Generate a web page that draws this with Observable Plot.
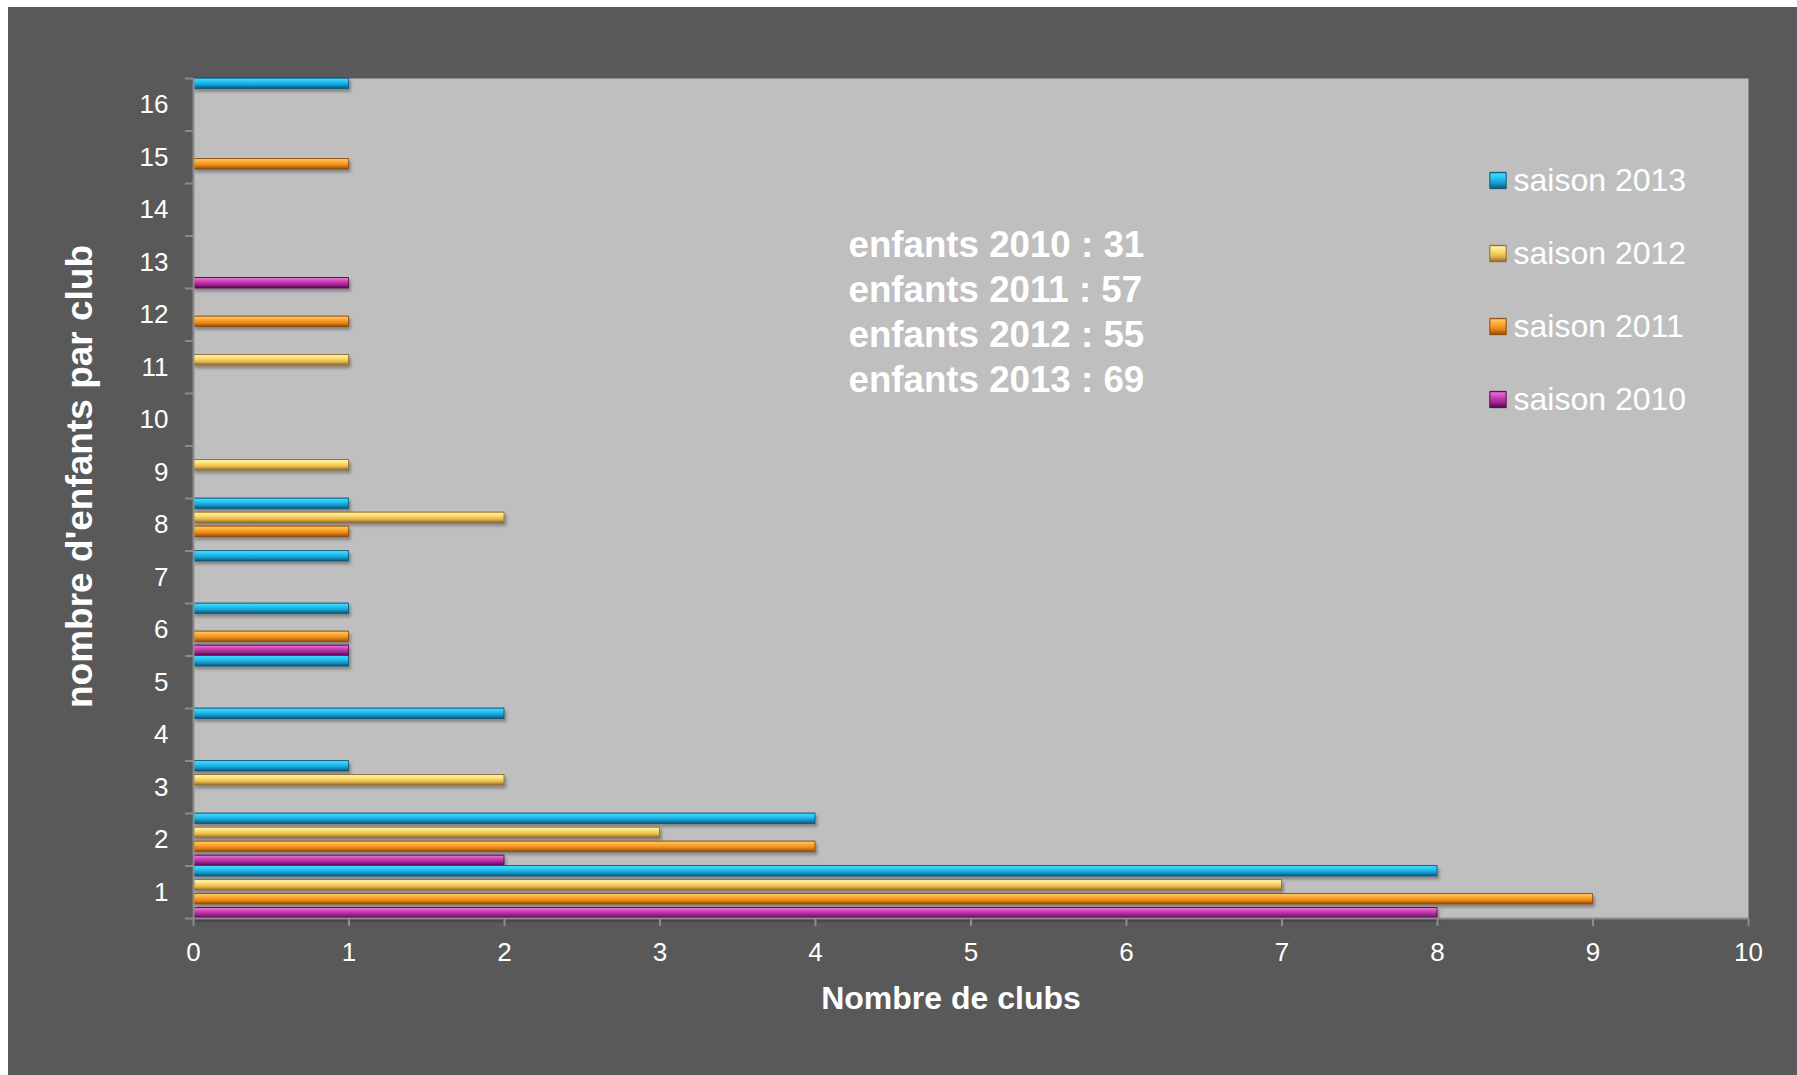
<!DOCTYPE html>
<html>
<head>
<meta charset="utf-8">
<script src="https://cdn.jsdelivr.net/npm/d3@7"></script>
<script src="https://cdn.jsdelivr.net/npm/@observablehq/plot@0.6"></script>
<style>
html, body { margin: 0; padding: 0; background: #ffffff; }
#chart { position: absolute; left: 8px; top: 7px; width: 1789px; height: 1068px; background: #595959; overflow: hidden; }
#chart > svg { position: absolute; left: 0; top: 0; }
#legend { position: absolute; left: 1462px; top: 140px; }
</style>
</head>
<body>
<div id="chart"><div id="legend"></div></div>
<script>
// ---- data ----
const categories = [1, 2, 3, 4, 5, 6, 7, 8, 9, 10, 11, 12, 13, 14, 15, 16];
const seasons = ["2010", "2011", "2012", "2013"];
const values2010 = [8, 2, 0, 0, 0, 1, 0, 0, 0, 0, 0, 0, 1, 0, 0, 0];
const values2011 = [9, 4, 0, 0, 0, 1, 0, 1, 0, 0, 0, 1, 0, 0, 1, 0];
const values2012 = [7, 3, 2, 0, 0, 0, 0, 2, 1, 0, 1, 0, 0, 0, 0, 0];
const values2013 = [8, 4, 1, 2, 1, 1, 1, 1, 0, 0, 0, 0, 0, 0, 0, 1];
const totals = [31, 57, 55, 69];
const xTicks = [0, 1, 2, 3, 4, 5, 6, 7, 8, 9, 10];

// ---- styles ----
const gradients = {
  "2013": [[0, "#0f7fb0"], [0.1, "#3fd8ff"], [0.4, "#22bff0"], [0.68, "#1597c9"], [1, "#0b5476"]],
  "2012": [[0, "#c08a38"], [0.1, "#fff2a8"], [0.4, "#f8da68"], [0.68, "#e6b64a"], [1, "#94692c"]],
  "2011": [[0, "#c87418"], [0.1, "#ffc45c"], [0.4, "#fca32c"], [0.68, "#e48314"], [1, "#8f4c0a"]],
  "2010": [[0, "#8c1c7c"], [0.1, "#e66ed2"], [0.4, "#c63db0"], [0.68, "#a02590"], [1, "#520648"]]
};
const strokes = {"2013": "#0a5678", "2012": "#8f672c", "2011": "#8a480a", "2010": "#4e0646"};
const slotOrder = ["2013", "2012", "2011", "2010"]; // top to bottom inside a category
const SLOT = 14 / 52.5, BAR = 10.5 / 52.5;

const seriesValues = [values2010, values2011, values2012, values2013];
const rows = [];
seasons.forEach((s, k) => seriesValues[k].forEach((v, i) => {
  if (v > 0) rows.push({season: s, cat: categories[i], value: v});
}));
const slotTop = d => d.cat + 0.5 - slotOrder.indexOf(d.season) * SLOT;
const boundaries = categories.map(c => c - 0.5).concat([categories[categories.length - 1] + 0.5]);
const annotation = seasons.map((s, i) => `enfants ${s} : ${totals[i]}`).join("\n");

const font = "'Liberation Sans', Arial, Helvetica, sans-serif";
const W = 1789, H = 1068;
const intFmt = d => String(d);

const chart = Plot.plot({
  width: W, height: H,
  marginLeft: 185, marginTop: 71, marginRight: 49, marginBottom: 157,
  style: {background: "transparent", color: "white", fontFamily: font, fontSize: "26px", overflow: "visible"},
  x: {domain: [0, 10], label: null},
  y: {domain: [0.5, 16.5], label: null},
  color: {type: "identity"},
  marks: [
    Plot.frame({fill: "#bfbfbf", stroke: "none"}),
    Plot.rect(rows, {
      x1: () => 0, x2: "value",
      y1: d => slotTop(d) - BAR, y2: slotTop,
      fill: d => `url(#g${d.season})`,
      stroke: d => strokes[d.season], strokeWidth: 0.8
    }),
    Plot.ruleX([0], {stroke: "#8c8c8c", strokeWidth: 2}),
    Plot.ruleY([0.5], {stroke: "#8c8c8c", strokeWidth: 2}),
    Plot.axisX(xTicks, {tickSize: 8, tickPadding: 16, tickFormat: intFmt, stroke: "#8c8c8c", strokeWidth: 2, fontSize: 26, label: null}),
    Plot.axisY(boundaries, {tickSize: 8, tickFormat: () => "", stroke: "#8c8c8c", strokeWidth: 2, label: null}),
    Plot.axisY(categories, {tickSize: 0, tickPadding: 25, tickFormat: intFmt, fontSize: 26, label: null}),
    Plot.text([annotation], {text: d => d, frameAnchor: "top-left", dx: 655, dy: 146, lineAnchor: "top", textAnchor: "start", fontSize: 36.7, fontWeight: "bold", lineHeight: 1.23, fill: "white"}),
    Plot.text(["Nombre de clubs"], {text: d => d, frameAnchor: "bottom", dx: -20, dy: 80, lineAnchor: "middle", textAnchor: "middle", fontSize: 32, fontWeight: "bold", fill: "white"}),
    Plot.text(["nombre d'enfants par club"], {text: d => d, frameAnchor: "left", dx: -113, dy: -22, rotate: -90, lineAnchor: "middle", textAnchor: "middle", fontSize: 37, fontWeight: "bold", fill: "white"})
  ]
});

// gradient + shadow definitions
const defs = d3.create("svg:defs");
for (const [key, stops] of Object.entries(gradients)) {
  const g = defs.append("linearGradient").attr("id", `g${key}`).attr("x1", 0).attr("y1", 0).attr("x2", 0).attr("y2", 1);
  for (const [o, c] of stops) g.append("stop").attr("offset", o).attr("stop-color", c);
}
const f = defs.append("filter").attr("id", "shadow").attr("x", "-5%").attr("y", "-50%").attr("width", "115%").attr("height", "250%");
f.append("feDropShadow").attr("dx", 2).attr("dy", 3).attr("stdDeviation", 1.6).attr("flood-color", "#000").attr("flood-opacity", 0.3);
chart.insertBefore(defs.node(), chart.firstChild);
d3.select(chart).selectAll('g[aria-label="rect"]').attr("filter", "url(#shadow)");

document.getElementById("chart").insertBefore(chart, document.getElementById("legend"));

// legend
const legendOrder = ["2013", "2012", "2011", "2010"];
const legend = Plot.plot({
  width: 300, height: 300, marginTop: 33, marginBottom: 48, marginLeft: 0, marginRight: 0,
  style: {background: "transparent", color: "white", fontFamily: font, overflow: "visible"},
  y: {type: "point", domain: legendOrder, padding: 0, axis: null},
  color: {type: "identity"},
  marks: [
    Plot.dot(legendOrder, {y: d => d, frameAnchor: "left", dx: 27.5, symbol: "square", r: 9.2, fill: d => `url(#g${d})`, stroke: d => strokes[d], strokeWidth: 1}),
    Plot.text(legendOrder, {y: d => d, frameAnchor: "left", dx: 43, text: d => `saison ${d}`, textAnchor: "start", lineAnchor: "middle", fontSize: 32, fill: "white"})
  ]
});
document.getElementById("legend").appendChild(legend);
</script>
</body>
</html>
